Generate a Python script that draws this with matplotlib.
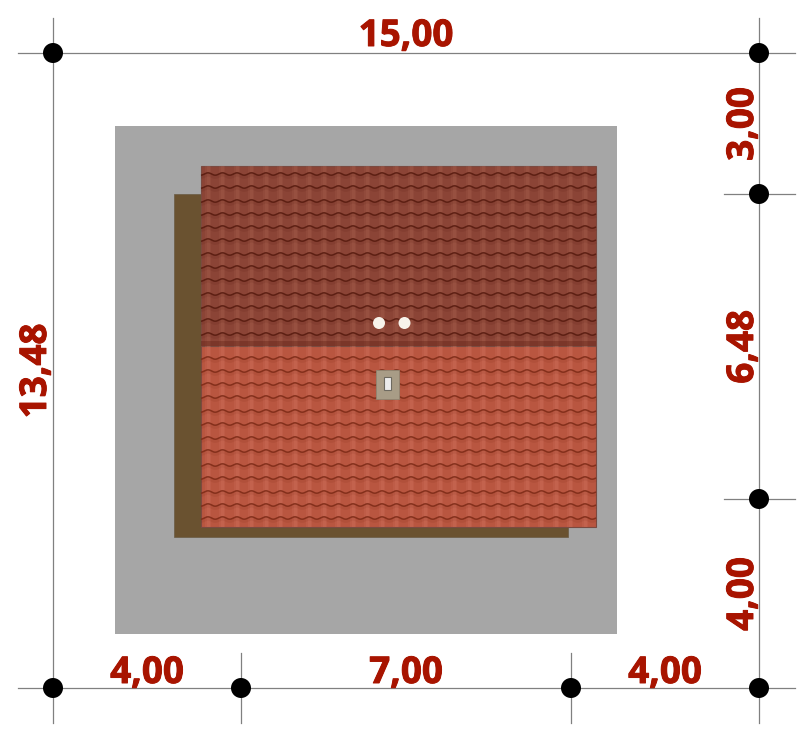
import matplotlib
matplotlib.use("Agg")
from matplotlib import pyplot as plt
from matplotlib.patches import Rectangle, Circle
from matplotlib import patheffects as pe
import numpy as np

# everything in pixels
dots = [(53, 53), (759, 53), (759, 194), (759, 499), (53, 688), (241, 688), (571, 688), (759, 688)]

labels_top = [("15,00", 406, 36), ("4,00", 147, 673), ("7,00", 406, 673), ("4,00", 665, 673)]
labels_side = [("13,48", 36, 371), ("3,00", 743, 124), ("6,48", 743, 347), ("4,00", 743, 594)]

plot_box = (115, 126, 502, 508)
wall_box = (174, 194, 394, 343)
roof_top = (201, 166, 395, 180)
roof_low = (201, 346, 395, 181)
chimney = (376, 370, 23, 29)
chimney_hole = (384, 377, 7, 13)
vents = [(379, 323), (404.5, 323)]

rows_top = [174, 187, 201, 214, 227, 240, 254, 267, 280, 294, 307, 320, 334]
rows_low = [358, 371, 384, 397, 411, 424, 438, 451, 465, 478, 492, 505, 518]
cols = [208, 222, 237, 251, 266, 280, 295, 309, 324, 338, 353, 367, 382, 396, 411, 425,
        440, 454, 469, 483, 498, 512, 527, 541, 556, 570, 585]

red = "#a81400"
grey = "#808080"

fig = plt.figure(figsize=(8.0, 7.29), dpi=100)
ax = fig.add_axes([0, 0, 1, 1])
ax.set_xlim(0, 800)
ax.set_ylim(729, 0)
ax.axis("off")

ax.add_patch(Rectangle(plot_box[:2], plot_box[2], plot_box[3], color="#a6a6a6", lw=0, zorder=1))
ax.add_patch(Rectangle(wall_box[:2], wall_box[2], wall_box[3], fc="#6a5230", ec="#6a5a44", lw=0.5, zorder=2))


def draw_roof(box, rows, base, band, line):
    x, y, w, h = box
    ax.add_patch(Rectangle((x, y), w, h, fc=base, ec="#7a4a40", lw=0.8, zorder=3))
    # lighter ridges of the tiles, soft edge from two widths
    for c in cols:
        ax.add_patch(Rectangle((c - 3, y), 6, h, fc=band, ec="none", alpha=0.22, zorder=3.1))
        ax.add_patch(Rectangle((c - 1.5, y), 3, h, fc=band, ec="none", alpha=0.28, zorder=3.1))
    # tile courses, one scallop per column
    xs = np.arange(x, x + w + 0.5, 0.5)
    phase = (xs - cols[0]) / 14.5 * 2 * np.pi
    wave = -1.2 * np.cos(phase)
    for r in rows:
        ax.plot(xs, r + wave, color=line, lw=1.1, alpha=0.85, zorder=3.2, solid_capstyle="butt")
        ax.plot(xs, r + 2 + wave, color=line, lw=2.5, alpha=0.12, zorder=3.2, solid_capstyle="butt")


draw_roof(roof_top, rows_top, "#8b4436", "#a86050", "#561a0e")
draw_roof(roof_low, rows_low, "#b95640", "#d07560", "#7c2a16")

# shadow band at the ridge
ax.add_patch(Rectangle((201, 341), 395, 5, fc="#5e1e12", ec="none", alpha=0.35, zorder=3.3))

ax.add_patch(Rectangle(chimney[:2], chimney[2], chimney[3], fc="#a89c86", ec="#8f8672", lw=0.6, zorder=4))
ax.add_patch(Rectangle(chimney_hole[:2], chimney_hole[2], chimney_hole[3], fc="#ececec", ec="#6e6a60", lw=0.8, zorder=5))
for vx, vy in vents:
    ax.add_patch(Circle((vx, vy), 6, fc="#f7f2ea", ec="none", zorder=5))

# dimension lines
ax.plot([18, 795], [53, 53], color=grey, lw=0.9, zorder=6)
ax.plot([18, 795], [688, 688], color=grey, lw=0.9, zorder=6)
ax.plot([53, 53], [18, 723], color=grey, lw=0.9, zorder=6)
ax.plot([759, 759], [18, 723], color=grey, lw=0.9, zorder=6)
ax.plot([724, 795], [194, 194], color=grey, lw=0.9, zorder=6)
ax.plot([724, 795], [499, 499], color=grey, lw=0.9, zorder=6)
ax.plot([241, 241], [653, 723], color=grey, lw=0.9, zorder=6)
ax.plot([571, 571], [653, 723], color=grey, lw=0.9, zorder=6)

for dx, dy in dots:
    ax.add_patch(Circle((dx, dy), 10, fc="black", ec="none", zorder=7))

heavy = [pe.withStroke(linewidth=0.7, foreground=red)]
for s, x, y in labels_top:
    ax.text(x, y, s, color=red, fontsize=26.5, fontweight="bold", family="Open Sans",
            ha="center", va="center", zorder=8, path_effects=heavy)
for s, x, y in labels_side:
    ax.text(x, y, s, color=red, fontsize=26.5, fontweight="bold", family="Open Sans",
            rotation=90, ha="center", va="center", zorder=8, path_effects=heavy)

fig.savefig("out.png", dpi=100)
